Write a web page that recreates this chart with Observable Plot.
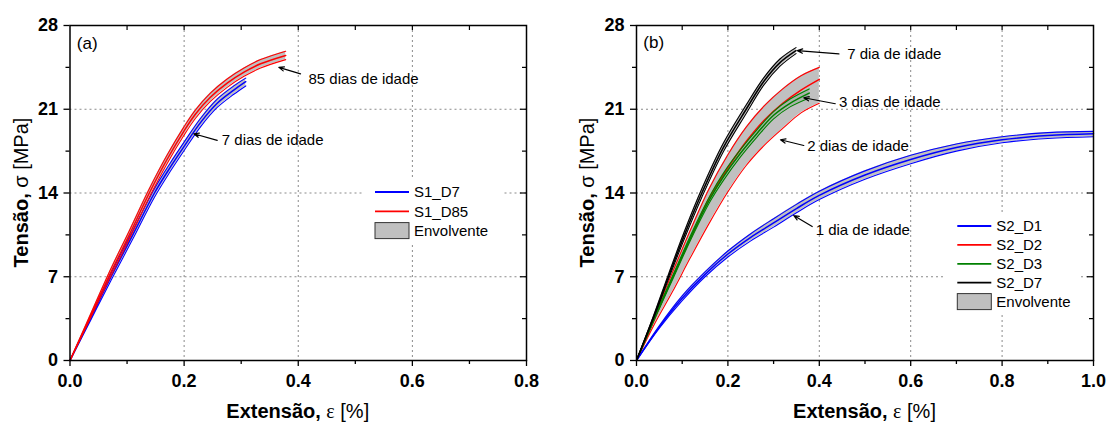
<!DOCTYPE html>
<html><head><meta charset="utf-8">
<script src="https://cdn.jsdelivr.net/npm/d3@7"></script>
<script src="https://cdn.jsdelivr.net/npm/@observablehq/plot@0.6"></script>
<style>
body{margin:0;background:#fff;}
#wrap{position:relative;width:1107px;height:428px;background:#fff;}
#wrap svg{position:absolute;top:0;}
</style></head><body><div id="wrap"></div>
<script>
// ---------- Panel (a) data : strain [%] and stress [MPa] ----------
const aD7_x     = [0, 0.036, 0.072, 0.11, 0.148, 0.175, 0.2, 0.229, 0.258, 0.287, 0.308];
const aD7_mean  = [0, 3.5, 7.0, 10.5, 14.0, 16.1, 17.9, 19.9, 21.5, 22.6, 23.3];
const aD7_upper = [0, 3.65, 7.3, 10.85, 14.35, 16.45, 18.25, 20.25, 21.85, 22.95, 23.6];
const aD7_lower = [0, 3.35, 6.7, 10.15, 13.65, 15.75, 17.55, 19.55, 21.15, 22.25, 22.95];

const aD85_x     = [0, 0.034, 0.068, 0.104, 0.139, 0.17, 0.2, 0.22, 0.246, 0.276, 0.305, 0.334, 0.378];
const aD85_mean  = [0, 3.5, 7.0, 10.5, 14.0, 16.8, 19.2, 20.6, 22.0, 23.2, 24.1, 24.8, 25.5];
const aD85_upper = [0, 3.65, 7.3, 10.85, 14.35, 17.15, 19.55, 20.95, 22.35, 23.55, 24.45, 25.15, 25.85];
const aD85_lower = [0, 3.35, 6.7, 10.15, 13.65, 16.45, 18.85, 20.25, 21.65, 22.85, 23.75, 24.45, 25.15];

// ---------- Panel (b) data ----------
const bD1_x     = [0, 0.05, 0.1, 0.15, 0.2, 0.25, 0.3, 0.35, 0.4, 0.5, 0.6, 0.7, 0.8, 0.9, 1.0];
const bD1_mean  = [0, 2.8, 5.2, 7.2, 8.9, 10.3, 11.5, 12.7, 13.8, 15.5, 16.8, 17.8, 18.45, 18.8, 18.95];
const bD1_upper = [0, 2.9, 5.4, 7.4, 9.15, 10.6, 11.85, 13.05, 14.15, 15.85, 17.15, 18.1, 18.7, 19.05, 19.15];
const bD1_lower = [0, 2.7, 5.0, 7.0, 8.65, 10.0, 11.15, 12.35, 13.45, 15.15, 16.45, 17.5, 18.2, 18.55, 18.7];

const bD2_x     = [0, 0.04, 0.078, 0.118, 0.158, 0.2, 0.24, 0.28, 0.32, 0.36, 0.4];
const bD2_mean  = [0, 3.5, 6.9, 10.2, 13.5, 16.1, 18.3, 20.1, 21.5, 22.6, 23.5];
const bD2_upper = [0, 3.8, 7.3, 10.9, 14.3, 17.2, 19.5, 21.3, 22.7, 23.8, 24.5];
const bD2_lower = [0, 3.1, 5.7, 8.6, 11.4, 14.1, 16.3, 18.0, 19.4, 20.7, 21.5];

const bD3_x     = [0, 0.04, 0.08, 0.12, 0.162, 0.191, 0.227, 0.264, 0.3, 0.336, 0.378];
const bD3_mean  = [0, 3.6, 7.0, 10.4, 13.6, 15.4, 17.3, 19.0, 20.5, 21.5, 22.35];
const bD3_upper = [0, 3.7, 7.15, 10.6, 13.85, 15.7, 17.6, 19.3, 20.8, 21.85, 22.7];
const bD3_lower = [0, 3.5, 6.85, 10.2, 13.35, 15.1, 17.0, 18.7, 20.2, 21.2, 21.95];

const bD7_x     = [0, 0.036, 0.07, 0.105, 0.143, 0.19, 0.24, 0.278, 0.314, 0.349];
const bD7_mean  = [0, 3.5, 7.0, 10.5, 14.0, 17.8, 21.0, 23.3, 24.9, 25.9];
const bD7_upper = [0, 3.6, 7.2, 10.8, 14.35, 18.15, 21.35, 23.6, 25.2, 26.15];
const bD7_lower = [0, 3.4, 6.8, 10.2, 13.65, 17.45, 20.65, 23.0, 24.6, 25.65];

// ---------- ticks ----------
const yMajor = [0, 7, 14, 21, 28];
const yMinor = [3.5, 10.5, 17.5, 24.5];
const yGrid  = [7, 14, 21];
const aXMajor = [0, 0.2, 0.4, 0.6, 0.8];
const aXMinor = [0.1, 0.3, 0.5, 0.7];
const aXGrid  = [0.2, 0.4, 0.6];
const bXMajor = [0, 0.2, 0.4, 0.6, 0.8, 1.0];
const bXMinor = [0.1, 0.3, 0.5, 0.7, 0.9];
const bXGrid  = [0.2, 0.4, 0.6, 0.8];

// ---------- annotations (data coordinates) ----------
const aNotes  = [{x: 0.418, y: 23.5, t: "85 dias de idade"}, {x: 0.266, y: 18.4, t: "7 dias de idade"}, {x: 0.012, y: 26.5, t: "(a)", big: true}];
const aArrows = [{x1: 0.404, y1: 23.96, x2: 0.366, y2: 24.5}, {x1: 0.258, y1: 18.4, x2: 0.217, y2: 18.95}];
const bNotes  = [{x: 0.461, y: 25.58, t: "7 dia de idade"}, {x: 0.443, y: 21.59, t: "3 dias de idade"},
                 {x: 0.3735, y: 17.89, t: "2 dias de idade"}, {x: 0.392, y: 10.87, t: "1 dia de idade"},
                 {x: 0.015, y: 26.55, t: "(b)", big: true}];
const bArrows = [{x1: 0.443, y1: 25.63, x2: 0.352, y2: 25.9}, {x1: 0.435, y1: 21.46, x2: 0.366, y2: 21.96},
                 {x1: 0.366, y1: 17.97, x2: 0.315, y2: 18.45}, {x1: 0.3845, y1: 11.2, x2: 0.344, y2: 12.12}];

const aLegend = [{name: "S1_D7", color: "#0000ff"}, {name: "S1_D85", color: "#ff0000"}];
const bLegend = [{name: "S2_D1", color: "#0000ff"}, {name: "S2_D2", color: "#ff0000"},
                 {name: "S2_D3", color: "#008000"}, {name: "S2_D7", color: "#000000"}];
const envLabel = "Envolvente";

const FONT = "'Liberation Sans', Arial, Helvetica, sans-serif";
const SERIF = "'Liberation Serif', 'Times New Roman', serif";
const H = 428, MT = 25, MB = 68;
const rows = (xs, m, u, l) => xs.map((x, i) => ({x, m: m[i], u: u[i], l: l[i]}));

function panel(cfg) {
  const plotH = H - MT - MB;
  const plotW = cfg.width - cfg.marginLeft - cfg.marginRight;
  const curve = "catmull-rom";
  const marks = [
    Plot.gridX(cfg.xGrid, {stroke: "#8a8a8a", strokeOpacity: 1, strokeDasharray: "2,3"}),
    Plot.gridY(yGrid, {stroke: "#8a8a8a", strokeOpacity: 1, strokeDasharray: "2,3"})
  ];
  for (const s of cfg.series) marks.push(Plot.areaY(s.data, {x: "x", y1: "l", y2: "u", fill: s.fill || "#c0c0c0", curve}));
  for (const s of cfg.series) {
    marks.push(Plot.line(s.data, {x: "x", y: "u", stroke: s.color, strokeWidth: 1.1, curve}));
    marks.push(Plot.line(s.data, {x: "x", y: "l", stroke: s.color, strokeWidth: 1.1, curve}));
    marks.push(Plot.line(s.data, {x: "x", y: "m", stroke: s.color, strokeWidth: 1.5, curve}));
  }
  marks.push(
    Plot.arrow(cfg.arrows, {x1: "x1", y1: "y1", x2: "x2", y2: "y2", stroke: "black", strokeWidth: 1.2, headLength: 7, headAngle: 45}),
    Plot.text(cfg.notes.filter(d => !d.big), {x: "x", y: "y", text: "t", textAnchor: "start", lineAnchor: "middle", fontSize: 15, fill: "black"}),
    Plot.text(cfg.notes.filter(d => d.big), {x: "x", y: "y", text: "t", textAnchor: "start", lineAnchor: "middle", fontSize: 17, fill: "black"}),
    Plot.frame({stroke: "black", strokeWidth: 1.5}),
    Plot.axisX(cfg.xMajor, {anchor: "bottom", tickSize: 6, tickPadding: 8, strokeWidth: 1.3, tickFormat: d => d.toFixed(1), fontSize: 18, fontWeight: "bold", label: null}),
    Plot.axisX(cfg.xMinor, {anchor: "bottom", tickSize: 4, strokeWidth: 1.3, fill: "none", label: null}),
    Plot.axisY(yMajor, {anchor: "left", tickSize: 6, tickPadding: 6, strokeWidth: 1.3, tickFormat: d => String(d), fontSize: 18, fontWeight: "bold", label: null}),
    Plot.axisY(yMinor, {anchor: "left", tickSize: 4, strokeWidth: 1.3, fill: "none", label: null}),
    Plot.tickX(cfg.xMajor.concat(cfg.xMinor).filter(d => d > 0 && d < cfg.xDomain[1]), {x: d => d, insetBottom: plotH - 5, stroke: "black", strokeWidth: 1.2}),
    Plot.tickY(yMajor.filter(d => d > 0 && d < 28), {y: d => d, insetLeft: plotW - 6, stroke: "black", strokeWidth: 1.2}),
    Plot.tickY(yMinor, {y: d => d, insetLeft: plotW - 4, stroke: "black", strokeWidth: 1.2})
  );
  const svg = Plot.plot({
    width: cfg.width, height: H,
    marginTop: MT, marginBottom: MB, marginLeft: cfg.marginLeft, marginRight: cfg.marginRight,
    style: {fontFamily: FONT, background: "white", color: "black"},
    x: {domain: cfg.xDomain}, y: {domain: [0, 28]},
    marks
  });
  const s = d3.select(svg);
  const cx = cfg.marginLeft + plotW / 2;
  // x axis title
  const tx = s.append("text").attr("x", cx).attr("y", 418).attr("text-anchor", "middle")
    .attr("font-family", FONT).attr("font-size", 20).attr("fill", "black");
  tx.append("tspan").attr("font-weight", "bold").text("Extensão, ");
  tx.append("tspan").attr("font-family", SERIF).text("ε");
  tx.append("tspan").text(" [%]");
  // y axis title
  const ty = s.append("text").attr("transform", `translate(${cfg.marginLeft - 42},${MT + plotH / 2}) rotate(-90)`)
    .attr("text-anchor", "middle").attr("font-family", FONT).attr("font-size", 20).attr("fill", "black");
  ty.append("tspan").attr("font-weight", "bold").text("Tensão, ");
  ty.append("tspan").text("σ [MPa]");
  // legend
  const L = cfg.legend;
  const g = s.append("g").attr("font-family", FONT).attr("font-size", 15).attr("text-anchor", "start");
  g.append("rect").attr("x", L.bx).attr("y", L.by).attr("width", L.bw).attr("height", L.bh).attr("fill", "white");
  L.items.forEach((it, i) => {
    const y = L.y0 + i * L.dy;
    g.append("line").attr("x1", L.x).attr("x2", L.x + 34).attr("y1", y).attr("y2", y).attr("stroke", it.color).attr("stroke-width", 1.8);
    g.append("text").attr("x", L.x + 39).attr("y", y).attr("dy", "0.36em").attr("text-anchor", "start").attr("fill", "black").text(it.name);
  });
  const ey = L.y0 + L.items.length * L.dy;
  g.append("rect").attr("x", L.x).attr("y", ey - 8).attr("width", 34).attr("height", 16).attr("fill", "#c0c0c0").attr("stroke", "#333").attr("stroke-width", 1);
  g.append("text").attr("x", L.x + 39).attr("y", ey).attr("dy", "0.36em").attr("text-anchor", "start").attr("fill", "black").text(envLabel);
  svg.style.left = cfg.left + "px";
  return svg;
}

const wrap = document.getElementById("wrap");
wrap.appendChild(panel({
  left: 0, width: 560, marginLeft: 69.5, marginRight: 34,
  xDomain: [0, 0.8], xMajor: aXMajor, xMinor: aXMinor, xGrid: aXGrid,
  series: [
    {data: rows(aD7_x, aD7_mean, aD7_upper, aD7_lower), color: "#0000ff"},
    {data: rows(aD85_x, aD85_mean, aD85_upper, aD85_lower), color: "#ff0000"}
  ],
  notes: aNotes, arrows: aArrows,
  legend: {bx: 363, by: 180, bw: 140, bh: 62, x: 375, y0: 192, dy: 19.3, items: aLegend}
}));
wrap.appendChild(panel({
  left: 560, width: 547, marginLeft: 76, marginRight: 14,
  xDomain: [0, 1.0], xMajor: bXMajor, xMinor: bXMinor, xGrid: bXGrid,
  series: [
    {data: rows(bD2_x, bD2_mean, bD2_upper, bD2_lower), color: "#ff0000"},
    {data: rows(bD3_x, bD3_mean, bD3_upper, bD3_lower), color: "#008000", fill: "#a9b5a9"},
    {data: rows(bD1_x, bD1_mean, bD1_upper, bD1_lower), color: "#0000ff"},
    {data: rows(bD7_x, bD7_mean, bD7_upper, bD7_lower), color: "#000000"}
  ],
  notes: bNotes, arrows: bArrows,
  legend: {bx: 385, by: 215, bw: 135, bh: 100, x: 397.3, y0: 226, dy: 18.9, items: bLegend}
}));
</script></body></html>
